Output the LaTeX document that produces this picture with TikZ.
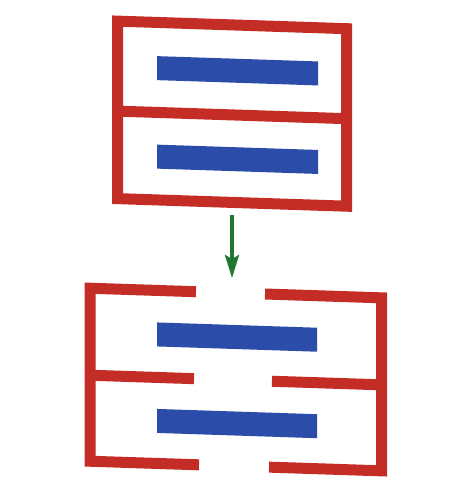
\documentclass[tikz,border=0pt]{standalone}
\usetikzlibrary{arrows.meta}
\definecolor{wallred}{RGB}{196,44,38}
\definecolor{barblue}{RGB}{44,76,170}
\definecolor{arrowgreen}{RGB}{30,120,50}
\tikzset{
  wall/.style={draw=wallred, line width=11pt, line join=miter},
  bar/.style={fill=barblue, draw=none},
  flow/.style={draw=arrowgreen, line width=3.5pt, -{Stealth[length=23pt,width=14pt,inset=4pt]}}
}
\begin{document}
\begin{tikzpicture}[x=1pt,y=-1pt]
\useasboundingbox (0,0) rectangle (450,500);
\fill[white] (0,0) rectangle (450,500);
\begin{scope}[shift={(0,-7.75)}, yslant=-0.033]
  % top closed box
  \draw[wall] (117.5,25) rectangle (346.5,202.5);
  \draw[wall] (117.5,115) -- (346.5,115);
  \fill[bar] (157,58.7) rectangle (318,82.7);
  \fill[bar] (157,147.2) rectangle (318,171.2);
  % bottom opened box
  \draw[wall] (196,293) -- (90,293) -- (90,466) -- (199,466);
  \draw[wall] (90,380) -- (194,380);
  \draw[wall] (265,293) -- (381.5,293) -- (381.5,466) -- (269,466);
  \draw[wall] (272,380) -- (381.5,380);
  \fill[bar] (157,325) rectangle (317,349);
  \fill[bar] (157,411.5) rectangle (317,435.5);
\end{scope}
\coordinate (a0) at (232,215);
\coordinate (a1) at (232,278);
\draw[flow] (a0) -- (a1);
\end{tikzpicture}
\end{document}
